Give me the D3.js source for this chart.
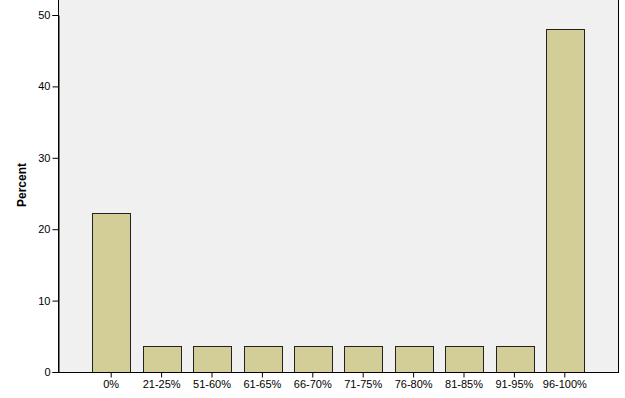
<!DOCTYPE html>
<html><head><meta charset="utf-8">
<script src="https://cdn.jsdelivr.net/npm/d3@7"></script>
<style>body{margin:0;background:#fff;}svg{display:block;font-family:"Liberation Sans",Arial,sans-serif;}</style>
</head><body>
<svg id="c" width="625" height="398"></svg>
<script>
const categories = ["0%","21-25%","51-60%","61-65%","66-70%","71-75%","76-80%","81-85%","91-95%","96-100%"];
const percents = [22.2,3.7,3.7,3.7,3.7,3.7,3.7,3.7,3.7,48.1];
const yTicks = [0,10,20,30,40,50];

const svg = d3.select("#c");
const pL = 58, pR = 618, pT = -10, pB = 372;
const y = d3.scaleLinear().domain([0,50]).range([pB, 15]);
const x = d3.scaleBand().domain(categories).range([86, 590]).paddingInner(0.25).paddingOuter(0.125);

svg.append("rect").attr("x",pL+0.5).attr("y",pT).attr("width",pR-pL).attr("height",pB-pT+0.5)
  .attr("fill","#f0f0f0").attr("stroke","#000").attr("stroke-width",1);

svg.selectAll("rect.bar").data(categories).enter().append("rect").attr("class","bar")
  .attr("x",d=>Math.round(x(d))+0.5).attr("width",Math.round(x.bandwidth()))
  .attr("y",(d,i)=>Math.round(y(percents[i]))+0.5).attr("height",(d,i)=>pB-Math.round(y(percents[i])))
  .attr("fill","#d3ce97").attr("stroke","#222").attr("stroke-width",1);

const yAxis = d3.axisLeft(y).tickValues(yTicks).tickSize(6).tickPadding(2);
const gy = svg.append("g").attr("transform",`translate(${pL+0.5},0)`).call(yAxis);
gy.select(".domain").attr("stroke","#000");
gy.selectAll("text").attr("font-size","11px").attr("fill","#000");

const xAxis = d3.axisBottom(x).tickSize(5).tickPadding(3);
const gx = svg.append("g").attr("transform",`translate(0,${pB+0.5})`).call(xAxis);
gx.select(".domain").remove();
gx.selectAll("text").attr("font-size","11px").attr("fill","#000");
svg.append("line").attr("x1",pL).attr("x2",pR+1).attr("y1",pB+0.5).attr("y2",pB+0.5).attr("stroke","#000");

svg.append("text").attr("transform","translate(26,185) rotate(-90)").attr("text-anchor","middle")
  .attr("font-size","12px").attr("font-weight","bold").text("Percent");
</script>
</body></html>
